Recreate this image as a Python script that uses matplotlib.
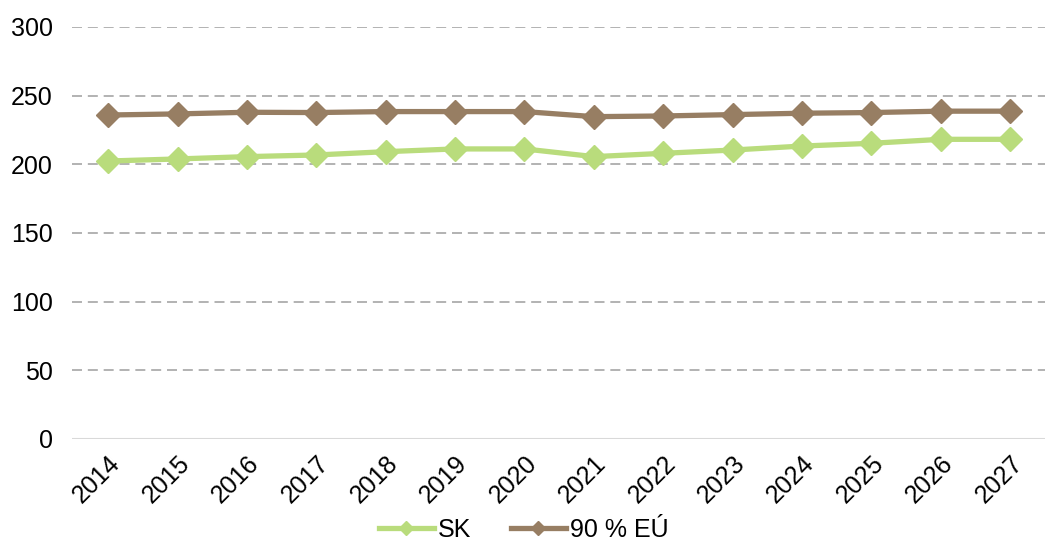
import matplotlib
matplotlib.use("Agg")
import matplotlib.pyplot as plt
from matplotlib.lines import Line2D

plt.rcParams['font.family'] = ['Liberation Sans', 'DejaVu Sans']

# data
years = ["2014", "2015", "2016", "2017", "2018", "2019", "2020",
         "2021", "2022", "2023", "2024", "2025", "2026", "2027"]
sk = [202.4, 203.9, 205.6, 206.8, 209.2, 211.2, 211.2,
      205.6, 208.0, 210.4, 213.3, 215.3, 218.2, 218.2]
eu90 = [235.9, 236.7, 237.9, 237.7, 238.4, 238.4, 238.4,
        234.7, 235.2, 236.2, 237.2, 237.7, 238.7, 238.7]
yticks = [0, 50, 100, 150, 200, 250, 300]

green = "#B9DC7C"
brown = "#977E63"

fig = plt.figure(figsize=(10.47, 5.45), dpi=100)
ax = fig.add_axes([0.0688, 0.1945, 0.9292, 0.756])

x = list(range(len(years)))
ax.plot(x, sk, color=green, lw=3.8, marker="D", ms=12, mec=green, zorder=3)
ax.plot(x, eu90, color=brown, lw=3.8, marker="D", ms=12, mec=brown, zorder=3)

ax.set_ylim(0, 300)
ax.set_xlim(-0.52, 13.5)
ax.set_yticks(yticks)
for t in yticks[1:]:
    ax.axhline(t, color="#A6A6A6", lw=1.2, ls=(0, (6, 3.5)), zorder=1)
ax.axhline(0, color="#D9D9D9", lw=1.5, zorder=1)

ax.set_xticks(x)
ax.set_xticklabels(years, rotation=45, ha="right", rotation_mode="anchor")
ax.tick_params(axis="both", length=0, labelsize=18)
ax.tick_params(axis="x", pad=9)
ax.tick_params(axis="y", pad=14)
for s in ax.spines.values():
    s.set_visible(False)

handles = [Line2D([], [], color=green, lw=3.8, marker="D", ms=7),
           Line2D([], [], color=brown, lw=3.8, marker="D", ms=7)]
fig.legend(handles, ["SK", "90 % EÚ"], loc="lower center",
           bbox_to_anchor=(0.5, -0.035), ncol=2, frameon=False,
           fontsize=18, handlelength=2.2, handletextpad=0.15,
           columnspacing=1.6)

fig.savefig("out.png", dpi=100)
